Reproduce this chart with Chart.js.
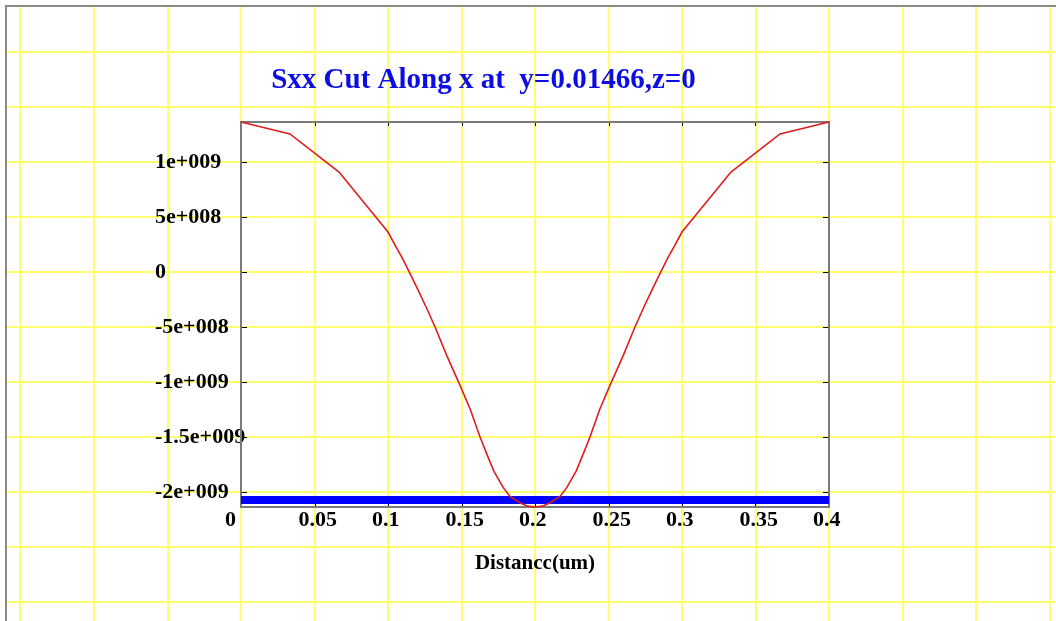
<!DOCTYPE html>
<html>
<head>
	<meta charset="utf-8">
	<title>Sxx Cut Along x</title>
	<script src="https://cdn.jsdelivr.net/npm/chart.js"></script>
	<style>
		html, body {
			margin: 0;
			padding: 0;
			background: #fff;
		}

		#chart {
			width: 1056px;
			height: 621px;
		}
	</style>
</head>

<body>
	<div id="chart">
		<canvas id="myChart"></canvas>
	</div>

	<script>
		// distance along x (um) and Sxx (Pa)
		var distance = [ 0, 0.0333, 0.0667, 0.1, 0.105, 0.11, 0.1145, 0.12, 0.126, 0.132, 0.14, 0.149, 0.156, 0.1626,
			0.168, 0.172, 0.1784, 0.183, 0.19, 0.195, 0.2,
			0.205, 0.21, 0.217, 0.2216, 0.228, 0.232, 0.2374, 0.244, 0.251, 0.26, 0.268, 0.274, 0.28, 0.2855,
			0.29, 0.295, 0.3, 0.3333, 0.3667, 0.4 ];
		var sxx = [ 1.364e9, 1.255e9, 0.909e9, 0.364e9, 0.24e9, 0.12e9, 0, -0.15e9, -0.32e9, -0.5e9, -0.76e9, -1.03e9, -1.25e9, -1.5e9,
			-1.68e9, -1.81e9, -1.96e9, -2.04e9, -2.10e9, -2.128e9, -2.136e9,
			-2.128e9, -2.10e9, -2.04e9, -1.96e9, -1.81e9, -1.68e9, -1.5e9, -1.25e9, -1.03e9, -0.76e9, -0.5e9, -0.32e9, -0.15e9, 0,
			0.12e9, 0.24e9, 0.364e9, 0.909e9, 1.255e9, 1.364e9 ];

		// the thick blue marker line near the bottom
		var bandDistance = [ 0, 0.4 ];
		var bandLevel = [ -2.073e9, -2.073e9 ];

		var xTicks = [ 0, 0.05, 0.1, 0.15, 0.2, 0.25, 0.3, 0.35, 0.4 ];
		var xTickLabels = [ '0', '0.05', '0.1', '0.15', '0.2', '0.25', '0.3', '0.35', '0.4' ];
		var yTicks = [ -2e9, -1.5e9, -1e9, -5e8, 0, 5e8, 1e9 ];
		var yTickLabels = [ '-2e+009', '-1.5e+009', '-1e+009', '-5e+008', '0', '5e+008', '1e+009' ];

		var titleText = 'Sxx Cut Along x at  y=0.01466,z=0';
		var xTitle = 'Distancc(um)';

		var serif = '"Liberation Serif", "Times New Roman", serif';

		function line( ctx, x1, y1, x2, y2 ) {
			ctx.beginPath();
			ctx.moveTo( x1, y1 );
			ctx.lineTo( x2, y2 );
			ctx.stroke();
		}

		// yellow grid over the whole page, plot frame with inner ticks, title
		var backdrop = {
			id: 'backdrop',
			beforeDraw: function( chart ) {
				var ctx = chart.ctx;
				var xs = chart.scales.x;
				var ys = chart.scales.y;
				var W = chart.width;
				var H = chart.height;

				ctx.save();
				ctx.fillStyle = '#fff';
				ctx.fillRect( 0, 0, W, H );

				ctx.strokeStyle = '#ffff6e';
				ctx.lineWidth = 2;
				for( var k = -10; k <= 20; k++ ) {
					var px = Math.round( xs.getPixelForValue( k * 0.05 ) );
					if( px > 8 && px < W ) {
						line( ctx, px, 7, px, H );
					}
				}
				for( var j = -10; j <= 10; j++ ) {
					var py = Math.round( ys.getPixelForValue( j * 5e8 ) );
					if( py > 8 && py < H ) {
						line( ctx, 7, py, W, py );
					}
				}

				ctx.strokeStyle = '#8a8a8a';
				ctx.lineWidth = 2;
				ctx.beginPath();
				ctx.moveTo( 6, H );
				ctx.lineTo( 6, 6 );
				ctx.lineTo( W, 6 );
				ctx.stroke();
				ctx.restore();
			},
			beforeDatasetsDraw: function( chart ) {
				var ctx = chart.ctx;
				var a = chart.chartArea;
				var xs = chart.scales.x;
				var ys = chart.scales.y;

				ctx.save();
				ctx.strokeStyle = '#000';
				ctx.lineWidth = 1;
				for( var i = 0; i < yTicks.length; i++ ) {
					var py = Math.round( ys.getPixelForValue( yTicks[ i ] ) ) + 0.5;
					line( ctx, a.left, py, a.left + 6, py );
					line( ctx, a.right - 6, py, a.right, py );
				}
				for( var k = 0; k < xTicks.length; k++ ) {
					var px = Math.round( xs.getPixelForValue( xTicks[ k ] ) ) + 0.5;
					line( ctx, px, a.top, px, a.top + 4 );
					line( ctx, px, a.bottom - 4, px, a.bottom );
				}

				ctx.strokeStyle = '#7a7a7a';
				ctx.lineWidth = 2;
				ctx.strokeRect( a.left, a.top, a.right - a.left, a.bottom - a.top );
				ctx.restore();
			},
			afterDraw: function( chart ) {
				var ctx = chart.ctx;
				ctx.save();
				ctx.font = 'bold 29px ' + serif;
				ctx.fillStyle = '#0c0ce6';
				ctx.textAlign = 'center';
				ctx.textBaseline = 'alphabetic';
				ctx.fillText( titleText, 483.5, 88 );
				ctx.restore();
			}
		};

		var points = distance.map( function( d, i ) {
			return { x: d, y: sxx[ i ] };
		});
		var band = bandDistance.map( function( d, i ) {
			return { x: d, y: bandLevel[ i ] };
		});

		var tickFont = { family: serif, size: 22, weight: 'bold' };

		new Chart( document.getElementById( 'myChart' ), {
			type: 'line',
			data: {
				datasets: [{
					label: 'Sxx',
					data: points,
					borderColor: '#dc1e1e',
					borderWidth: 1.6,
					pointRadius: 0,
					tension: 0,
					clip: false
				}, {
					label: 'band',
					data: band,
					borderColor: '#0000ff',
					borderWidth: 8,
					borderCapStyle: 'butt',
					pointRadius: 0,
					clip: false
				}]
			},
			options: {
				responsive: true,
				maintainAspectRatio: false,
				animation: false,
				layout: {
					padding: { left: 155, right: 227, top: 122, bottom: 45 }
				},
				plugins: {
					legend: { display: false },
					tooltip: { enabled: false },
					title: { display: false }
				},
				scales: {
					x: {
						type: 'linear',
						min: 0,
						max: 0.4,
						grid: { display: false, drawTicks: false },
						border: { display: false },
						afterBuildTicks: function( scale ) {
							scale.ticks = xTicks.map( function( v ) { return { value: v }; } );
						},
						afterFit: function( scale ) {
							scale.height = 69;
						},
						ticks: {
							autoSkip: false,
							maxRotation: 0,
							align: 'start',
							labelOffset: -16,
							padding: 0,
							color: '#000',
							font: tickFont,
							callback: function( value, index ) {
								return xTickLabels[ index ];
							}
						},
						title: {
							display: true,
							text: xTitle,
							color: '#000',
							font: { family: serif, size: 21, weight: 'bold' },
							padding: { top: 0, bottom: 0 }
						}
					},
					y: {
						type: 'linear',
						min: -2.136e9,
						max: 1.364e9,
						grid: { display: false, drawTicks: false },
						border: { display: false },
						afterBuildTicks: function( scale ) {
							scale.ticks = yTicks.map( function( v ) { return { value: v }; } );
						},
						afterFit: function( scale ) {
							scale.width = 86;
						},
						ticks: {
							autoSkip: false,
							// mirrored so long labels may run over the frame, as in the original
							mirror: true,
							crossAlign: 'near',
							padding: -86,
							labelOffset: 0,
							color: '#000',
							font: tickFont,
							callback: function( value, index ) {
								return yTickLabels[ index ];
							}
						}
					}
				}
			},
			plugins: [ backdrop ]
		});
	</script>
</body>
</html>
